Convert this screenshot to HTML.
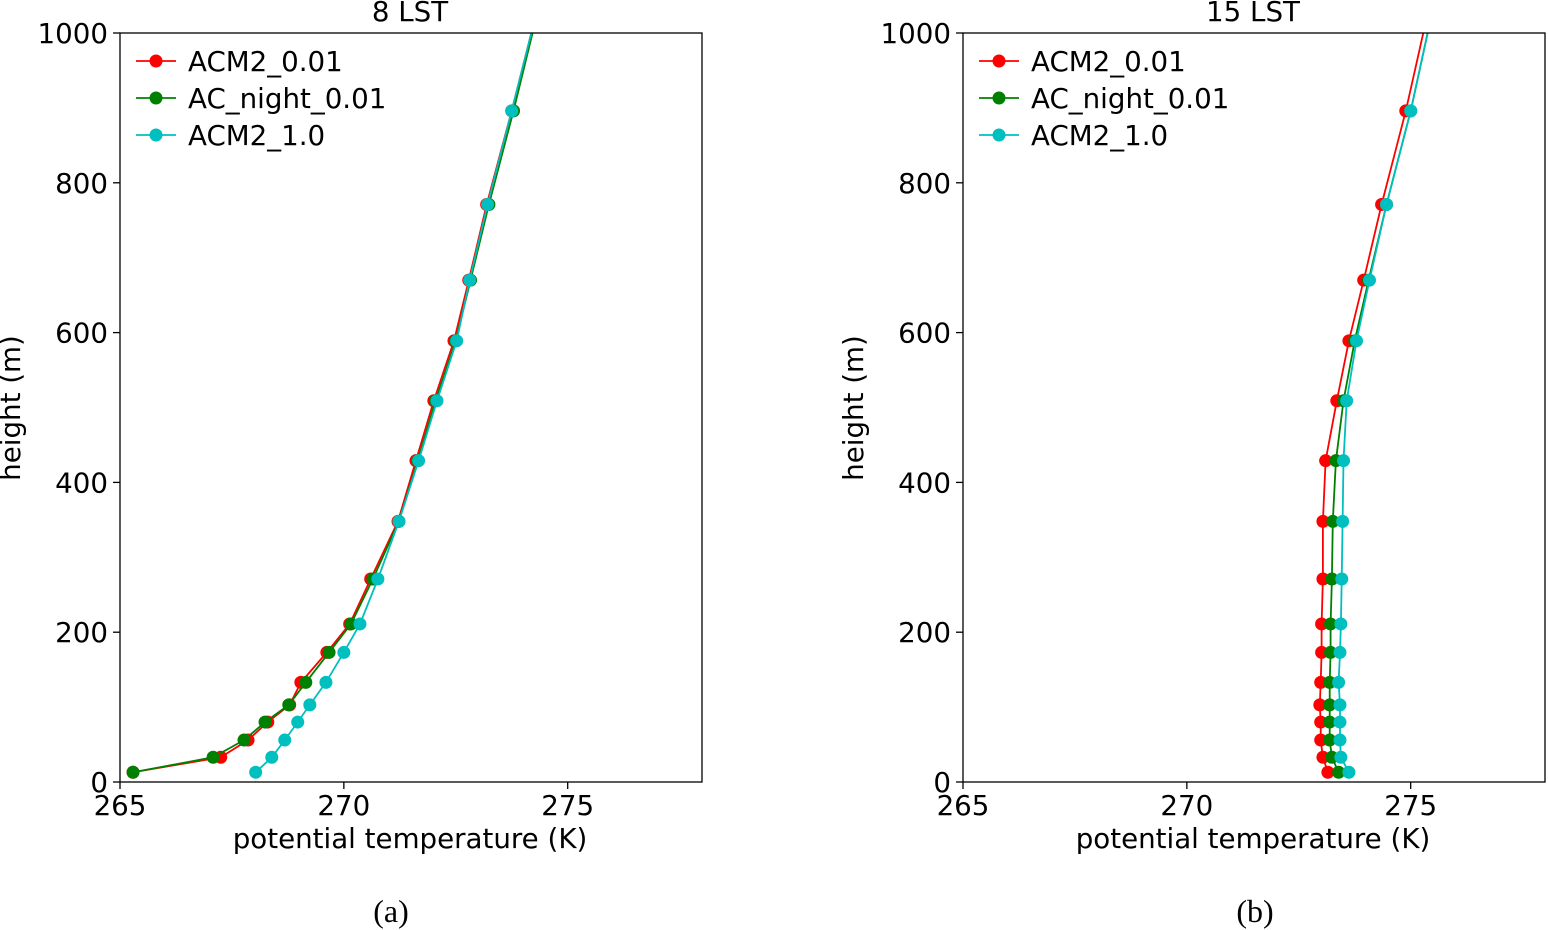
<!DOCTYPE html>
<html><head><meta charset="utf-8"><style>
html,body{margin:0;padding:0;background:#fff;}
svg{display:block;font-family:"DejaVu Sans","Liberation Sans",sans-serif;}
</style></head><body>
<svg id="fig" width="1548" height="930" viewBox="0 0 1548 930"></svg>
<script>
const heights=[13,33,56,80,103,133,173,211,271,348,429,509,589,670,771,896,1050];
const xTicks=[265,270,275];
const yTicks=[0,200,400,600,800,1000];
const seriesNames=["ACM2_0.01","AC_night_0.01","ACM2_1.0"];
const seriesColors=["#ff0000","#008000","#00bfbf"];
const aRed=[265.29,267.25,267.86,268.30,268.79,269.04,269.62,270.13,270.60,271.21,271.61,272.01,272.46,272.79,273.19,273.75,274.40];
const aGreen=[265.29,267.08,267.77,268.24,268.77,269.15,269.67,270.16,270.65,271.23,271.65,272.05,272.50,272.83,273.24,273.79,274.42];
const aCyan=[268.03,268.39,268.68,268.97,269.24,269.60,270.00,270.36,270.76,271.23,271.67,272.08,272.52,272.81,273.21,273.75,274.40];
const bRed=[273.15,273.04,272.99,272.99,272.97,272.99,273.01,273.01,273.04,273.04,273.10,273.35,273.62,273.95,274.35,274.89,275.47];
const bGreen=[273.39,273.24,273.19,273.19,273.19,273.19,273.21,273.21,273.24,273.26,273.33,273.50,273.75,274.06,274.46,275.00,275.56];
const bCyan=[273.62,273.44,273.42,273.42,273.42,273.39,273.42,273.44,273.46,273.48,273.50,273.57,273.79,274.08,274.46,275.00,275.56];
const panels=[
 {name:"panel-a",left:120,title:"8 LST",caption:"(a)",capX:391,data:[aRed,aGreen,aCyan]},
 {name:"panel-b",left:963,title:"15 LST",caption:"(b)",capX:1255,data:[bRed,bGreen,bCyan]}
];
const NS="http://www.w3.org/2000/svg";
const svgEl=document.getElementById('fig');
const plotTop=33,plotBottom=782,W=582,xmin=265,xmax=278,ymin=0,ymax=1000;
const FS=27.7;
function mk(tag,attrs,parent){const e=document.createElementNS(NS,tag);for(const k in attrs)e.setAttribute(k,attrs[k]);(parent||svgEl).appendChild(e);return e;}
panels.forEach((p,pi)=>{
 const g=mk('g',{});
 
 
 const xs=v=>p.left+(v-xmin)/(xmax-xmin)*W;
 const ys=v=>plotBottom-(v-ymin)/(ymax-ymin)*(plotBottom-plotTop);
 const cid='clip'+pi;
 const cp=mk('clipPath',{id:cid},g);mk('rect',{x:p.left,y:plotTop,width:W,height:plotBottom-plotTop},cp);
 const plot=mk('g',{'clip-path':'url(#'+cid+')'},g);
 p.data.forEach((vals,si)=>{
  const sg=mk('g',{},plot);
  
  
  const pts=vals.map((v,i)=>xs(v).toFixed(1)+','+ys(heights[i]).toFixed(1)).join(' ');
  mk('polyline',{points:pts,fill:'none',stroke:seriesColors[si],'stroke-width':1.8},sg);
  vals.forEach((v,i)=>{
   const c=mk('circle',{cx:xs(v),cy:ys(heights[i]),r:6.5,fill:seriesColors[si]},sg);
   
   
  });
 });
 const frame=mk('rect',{x:p.left,y:plotTop,width:W,height:plotBottom-plotTop,fill:'none',stroke:'#000','stroke-width':1.3},g);
 
 
 xTicks.forEach(t=>{
  mk('line',{x1:xs(t),x2:xs(t),y1:plotBottom,y2:plotBottom+7,stroke:'#000','stroke-width':1.3},g);
  const tx=mk('text',{x:xs(t),y:plotBottom+33,'text-anchor':'middle','font-size':FS},g);tx.textContent=t;
  
  
 });
 yTicks.forEach(t=>{
  mk('line',{x1:p.left-7,x2:p.left,y1:ys(t),y2:ys(t),stroke:'#000','stroke-width':1.3},g);
  const tx=mk('text',{x:p.left-12,y:ys(t)+10,'text-anchor':'end','font-size':FS},g);tx.textContent=t;
  
  
 });
 const xt=mk('text',{x:p.left+290,y:848,'text-anchor':'middle','font-size':FS},g);xt.textContent='potential temperature (K)';
 
 
 const yt=mk('text',{x:0,y:0,'text-anchor':'middle','font-size':FS,transform:'translate('+(p.left-100)+',408) rotate(-90)'},g);yt.textContent='height (m)';
 
 
 const tt=mk('text',{x:p.left+290,y:21,'text-anchor':'middle','font-size':FS},g);tt.textContent=p.title;
 
 
 seriesNames.forEach((n,si)=>{
  const ly=61+si*37;
  const le=mk('g',{},g);
  
  
  mk('line',{x1:p.left+16,x2:p.left+56,y1:ly,y2:ly,stroke:seriesColors[si],'stroke-width':1.8},le);
  mk('circle',{cx:p.left+36,cy:ly,r:6.5,fill:seriesColors[si]},le);
  const lt=mk('text',{x:p.left+68,y:ly+10,'font-size':FS},le);lt.textContent=n;
 });
 const cap=mk('text',{x:p.capX,y:922,'text-anchor':'middle','font-size':32,'font-family':'"Liberation Serif",serif'},g);cap.textContent=p.caption;
 
 
});
</script>
</body></html>
